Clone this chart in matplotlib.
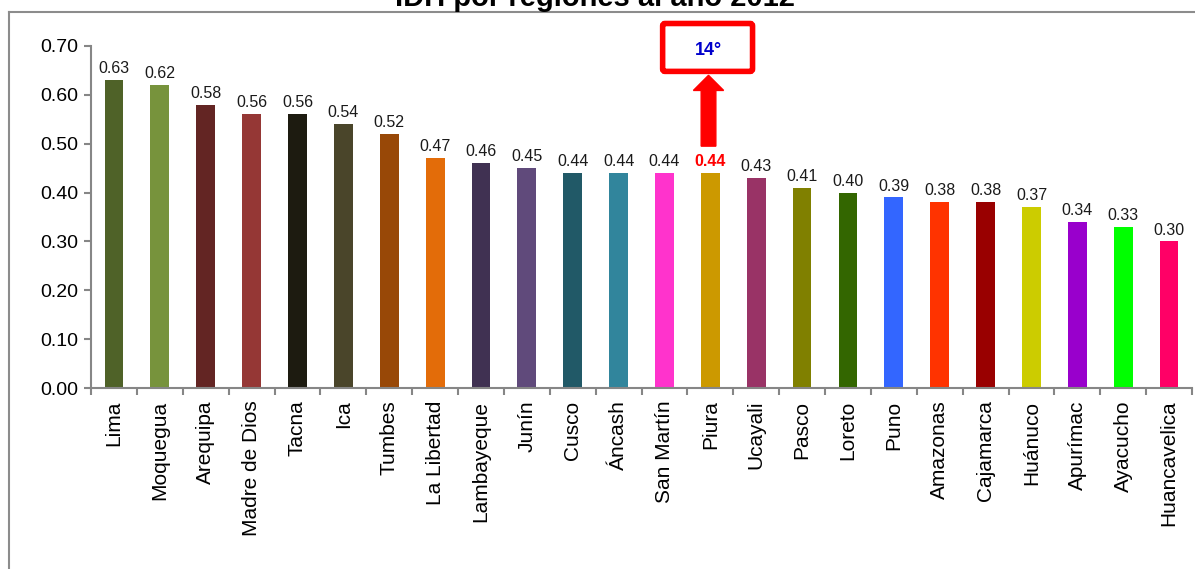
import matplotlib.pyplot as plt
from matplotlib.patches import FancyArrow, FancyBboxPatch
from matplotlib.lines import Line2D

regions = ['Lima', 'Moquegua', 'Arequipa', 'Madre de Dios', 'Tacna', 'Ica', 'Tumbes',
           'La Libertad', 'Lambayeque', 'Junín', 'Cusco', 'Áncash', 'San Martín', 'Piura',
           'Ucayali', 'Pasco', 'Loreto', 'Puno', 'Amazonas', 'Cajamarca', 'Huánuco',
           'Apurímac', 'Ayacucho', 'Huancavelica']
idh = [0.63, 0.62, 0.58, 0.56, 0.56, 0.54, 0.52, 0.47, 0.46, 0.45, 0.44, 0.44, 0.44, 0.44,
       0.43, 0.41, 0.40, 0.39, 0.38, 0.38, 0.37, 0.34, 0.33, 0.30]
bar_colors = ['#4F6228', '#77933C', '#632523', '#953735', '#1D1B10', '#4A452A', '#984807',
              '#E36C09', '#403152', '#604A7B', '#215967', '#31859C', '#FF33CC', '#CC9900',
              '#993366', '#808000', '#336600', '#3366FF', '#FF3300', '#990000', '#CCCC00',
              '#9900CC', '#00FF00', '#FF0066']
highlight = 'Piura'
rank_label = '14°'

plt.rcParams['font.family'] = ['Liberation Sans', 'DejaVu Sans']

fig = plt.figure(figsize=(11.95, 5.69), dpi=100)
ax = fig.add_axes([0.0762, 0.3181, 0.9213, 0.6011])

x = list(range(len(regions)))
ax.bar(x, idh, width=0.41, color=bar_colors, zorder=2)
ax.set_xlim(-0.5, len(regions) - 0.5)
ax.set_ylim(0, 0.70)
ax.set_yticks([i / 10 for i in range(8)])
ax.set_yticklabels([f'{i / 10:.2f}' for i in range(8)], fontsize=14)

# category labels at bar centres, tick marks between categories
ax.set_xticks(x)
ax.set_xticklabels(regions, rotation=90, fontsize=15)
ax.tick_params(axis='x', which='major', length=0, pad=9)
ax.set_xticks([i - 0.5 for i in range(len(regions) + 1)], minor=True)
ax.tick_params(axis='x', which='minor', length=5, width=1.5, color='#868686')
ax.tick_params(axis='y', length=5, width=1.5, color='#868686', pad=4)

for side in ['top', 'right']:
    ax.spines[side].set_visible(False)
for side in ['left', 'bottom']:
    ax.spines[side].set_color('#868686')
    ax.spines[side].set_linewidth(1.5)

# value labels
for xi, v, name in zip(x, idh, regions):
    if name == highlight:
        ax.text(xi, v + 0.008, f'{v:.2f}', ha='center', va='bottom', fontsize=11.5,
                color='#FF0000', fontweight='bold')
    else:
        ax.text(xi, v + 0.008, f'{v:.2f}', ha='center', va='bottom', fontsize=11.5,
                color='#1a1a1a')

# rank callout above the highlighted bar
hx = regions.index(highlight)
hv = idh[hx]
arrow = FancyArrow(hx - 0.04, hv + 0.055, 0, 0.145, width=0.32, head_width=0.66,
                   head_length=0.031, length_includes_head=True, color='#FF0000',
                   zorder=3, clip_on=False)
ax.add_patch(arrow)
box = FancyBboxPatch((hx - 1.04, 0.648), 1.96, 0.098,
                     boxstyle='round,pad=0,rounding_size=0.05', fill=False,
                     edgecolor='#FF0000', linewidth=4, clip_on=False, zorder=3,
                     mutation_aspect=0.1)
ax.add_patch(box)
ax.text(hx - 0.05, 0.690, rank_label, ha='center', va='center', fontsize=13,
        fontweight='bold', color='#0000CC', clip_on=False, zorder=4)

# chart frame and title
fig.add_artist(Line2D([0.0075, 1.0], [0.979, 0.979], color='#8c8c8c', linewidth=1.5))
fig.add_artist(Line2D([0.0075, 0.0075], [0.0, 0.979], color='#8c8c8c', linewidth=1.5))
fig.text(0.498, 0.9895, 'IDH por regiones al año 2012', ha='center', va='baseline',
         fontsize=21, fontweight='bold')

fig.savefig('out.png', dpi=100)
